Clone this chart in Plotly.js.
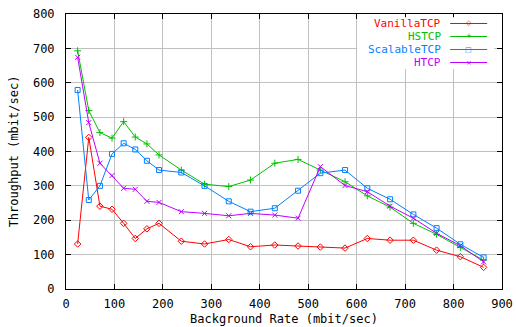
<!DOCTYPE html>
<html><head><meta charset="utf-8">
<script src="https://cdn.plot.ly/plotly-3.0.1.min.js"></script>
<style>html,body{margin:0;padding:0;background:#fff}#c{width:516px;height:327px}</style>
</head><body><div id="c"></div>
<script>
var bgRate = [24,47,70,95,119,143,167,192,238,286,336,381,431,479,525,576,622,669,717,765,814,862];
var vanilla = [131,441,241,232,191,147,175,191,139,131,144,123,128,125,122,119,147,142,142,113,94,63];
var hstcp = [693,519,455,439,487,442,422,390,346,305,298,317,366,377,346,312,271,238,191,159,121,84];
var scalable = [579,259,300,393,424,406,373,346,339,300,255,225,235,286,337,346,293,261,217,177,130,92];
var htcp = [674,484,366,330,293,290,255,252,225,220,213,220,215,206,356,301,283,241,206,162,126,79];
var names = ['VanillaTCP','HSTCP','ScalableTCP','HTCP'];
var colors = ['#ff0000','#00c000','#0080ff','#c000ff'];
var symbols = ['diamond-open','cross-thin-open','square-open','x-thin-open'];
var legendGlyphs = ['\u25C7','+','\u25A1','\u00D7'];
var series = [vanilla,hstcp,scalable,htcp];
var font = 'DejaVu Sans Mono, monospace';
var fs = 12;
var traces = series.map(function(s,i){
  return {x:bgRate, y:s, type:'scatter', mode:'lines+markers', name:names[i],
    line:{color:colors[i], width:1},
    marker:{symbol:symbols[i], size:5, color:colors[i], line:{color:colors[i], width:1}}};
});
// legend (gnuplot style: right-aligned text, sample line on the right)
var shapes = [{type:'rect', xref:'paper', yref:'paper', x0:0.668, x1:0.982, y0:0.800, y1:0.988,
  fillcolor:'#fff', line:{width:0}, layer:'above'}];
var annotations = [];
var rowY = [0.9655, 0.9182, 0.8709, 0.8236];
names.forEach(function(n,i){
  annotations.push({xref:'paper', yref:'paper', x:0.862, y:rowY[i], xanchor:'right', yanchor:'middle',
    text:n, showarrow:false, borderpad:0,
    font:{family:font, size:11, color:colors[i]}});
  shapes.push({type:'line', xref:'paper', yref:'paper', x0:0.881, x1:0.966, y0:rowY[i], y1:rowY[i],
    line:{color:colors[i], width:1}, layer:'above'});
  annotations.push({xref:'paper', yref:'paper', x:0.9235, y:rowY[i], xanchor:'center', yanchor:'middle',
    text:legendGlyphs[i], showarrow:false, borderpad:0,
    font:{family:'DejaVu Sans', size:7, color:colors[i]}});
});
var layout = {
  width:516, height:327, margin:{l:66,r:14,t:14,b:38},
  paper_bgcolor:'#fff', plot_bgcolor:'#fff',
  font:{family:font, size:fs, color:'#000'},
  xaxis:{range:[0,900], dtick:100, tick0:0, showgrid:true, gridcolor:'#c0c0c0', gridwidth:1,
    zeroline:false, showline:true, linecolor:'#000', linewidth:1, mirror:'ticks',
    ticks:'inside', ticklen:5, tickcolor:'#000', ticklabelstandoff:4,
    title:{text:'Background Rate (mbit/sec)', font:{family:font,size:fs}, standoff:4}},
  yaxis:{range:[0,800], dtick:100, tick0:0, showgrid:true, gridcolor:'#c0c0c0', gridwidth:1,
    zeroline:false, showline:true, linecolor:'#000', linewidth:1, mirror:'ticks',
    ticks:'inside', ticklen:5, tickcolor:'#000', ticklabelstandoff:8,
    title:{text:'Throughput (mbit/sec)', font:{family:font,size:fs}, standoff:11}},
  showlegend:false,
  shapes:shapes, annotations:annotations
};
Plotly.newPlot('c', traces, layout, {displayModeBar:false, staticPlot:true});
</script></body></html>
